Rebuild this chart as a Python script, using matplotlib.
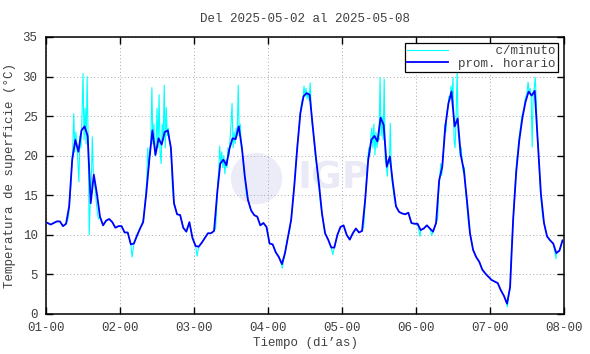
import numpy as np
import matplotlib
matplotlib.use("Agg")
import matplotlib.pyplot as plt

plt.rcParams['font.family'] = ['Liberation Mono', 'DejaVu Sans Mono']

dias = ["01-00", "02-00", "03-00", "04-00", "05-00", "06-00", "07-00", "08-00"]

# promedio horario (un valor por hora, dibujado a la media hora)
prom_dia1 = [11.5, 11.3, 11.5, 11.7, 11.7, 11.1, 11.4, 13.6, 19.5, 22.0, 20.5, 23.2,
             23.7, 22.5, 14.0, 17.6, 15.2, 12.3, 11.2, 11.8, 12.0, 11.6, 10.9, 11.1]
prom_dia2 = [11.1, 10.3, 10.3, 8.8, 8.9, 9.9, 10.8, 11.6, 15.2, 19.5, 23.2, 20.1,
             22.2, 21.4, 23.0, 23.2, 21.0, 14.0, 12.6, 12.5, 10.9, 10.4, 11.6, 9.6]
prom_dia3 = [8.6, 8.5, 9.0, 9.6, 10.2, 10.2, 10.5, 15.2, 19.0, 19.5, 18.8, 20.9,
             22.2, 22.1, 23.7, 21.1, 17.3, 14.4, 13.1, 12.5, 12.3, 11.2, 11.5, 11.0]
prom_dia4 = [8.9, 8.8, 7.8, 7.2, 6.3, 7.7, 9.8, 11.9, 16.1, 21.1, 25.4, 27.5,
             27.9, 27.7, 23.7, 19.9, 16.5, 12.7, 10.2, 9.4, 8.4, 8.4, 10.0, 11.0]
prom_dia5 = [11.2, 10.0, 9.4, 10.2, 10.8, 10.3, 10.5, 14.4, 19.5, 22.0, 22.5, 21.8,
             24.8, 23.9, 18.6, 19.9, 16.5, 13.6, 12.9, 12.7, 12.6, 12.8, 11.5, 11.4]
prom_dia6 = [11.4, 10.6, 10.8, 11.2, 10.8, 10.4, 11.5, 16.9, 18.6, 23.7, 26.6, 28.1,
             23.7, 24.7, 20.1, 18.2, 14.4, 10.2, 8.1, 7.2, 6.6, 5.6, 5.1, 4.7]
prom_dia7 = [4.3, 4.1, 3.9, 3.0, 2.3, 1.3, 3.4, 12.0, 18.0, 22.0, 24.8, 26.8,
             28.1, 27.6, 28.2, 21.6, 15.2, 11.5, 9.8, 9.3, 8.9, 7.7, 8.0, 9.3]
prom_horario = prom_dia1 + prom_dia2 + prom_dia3 + prom_dia4 + prom_dia5 + prom_dia6 + prom_dia7

# lecturas c/minuto durante el dia (cada 20 min, de 7 a 17 h)
min_dia1 = [11.8, 12.5, 14.0, 16.0, 18.5, 21.0, 25.3, 20.5, 23.0, 21.5, 19.0, 16.7,
            22.5, 21.0, 25.0, 30.4, 22.0, 26.0, 21.5, 30.0, 22.0, 10.0, 14.0, 16.0,
            22.4, 18.0, 16.5, 15.5, 14.0, 12.8, 12.0]
min_dia2 = [11.3, 11.6, 12.0, 13.5, 15.0, 17.0, 21.0, 18.5, 20.5, 22.0, 28.6, 21.5,
            24.0, 20.0, 21.0, 26.0, 21.0, 27.7, 20.5, 19.0, 24.0, 22.0, 28.9, 21.0,
            26.1, 22.5, 23.5, 22.0, 21.5, 19.5, 16.0]
min_dia3 = [10.8, 13.5, 16.5, 18.0, 21.2, 19.0, 20.5, 18.5, 20.0, 17.7, 19.5, 18.5,
            21.0, 20.0, 22.0, 24.0, 26.6, 21.0, 23.0, 21.5, 23.5, 22.5, 28.9, 22.5,
            24.0, 21.0, 20.5, 19.0, 17.5, 16.5, 15.0]
min_dia4 = [10.5, 11.5, 12.5, 14.0, 15.5, 17.0, 19.0, 20.5, 22.0, 23.5, 25.0, 26.0,
            27.0, 27.0, 28.8, 27.5, 28.5, 27.2, 28.0, 27.0, 29.2, 26.0, 24.0, 23.0,
            21.5, 20.0, 19.0, 18.0, 16.5, 15.5, 14.0]
min_dia5 = [11.0, 13.0, 15.5, 17.5, 19.5, 21.0, 20.0, 22.5, 23.5, 21.0, 24.0, 20.1,
            23.0, 21.0, 22.5, 22.0, 29.9, 22.5, 25.0, 22.0, 29.7, 19.5, 19.0, 17.4,
            19.5, 19.0, 24.1, 17.5, 16.5, 15.5, 14.5]
min_dia6 = [12.0, 15.5, 17.0, 19.0, 17.5, 19.5, 21.5, 24.0, 23.0, 25.5, 26.0, 27.5,
            27.0, 28.8, 27.5, 29.9, 22.0, 21.0, 25.0, 30.9, 23.0, 21.5, 20.0, 21.0,
            19.0, 17.9, 18.5, 16.0, 14.5, 13.0, 11.5]
min_dia7 = [8.5, 10.5, 13.0, 15.5, 17.5, 19.5, 20.5, 22.0, 23.0, 24.0, 25.0, 25.5,
            26.0, 27.0, 27.5, 28.0, 29.3, 28.0, 28.5, 27.5, 21.1, 28.0, 28.5, 29.9,
            27.0, 22.5, 21.0, 18.0, 15.5, 14.0, 12.5]
minuto_dias = [min_dia1, min_dia2, min_dia3, min_dia4, min_dia5, min_dia6, min_dia7]

# picos nocturnos c/minuto: (dia, hora, valor)
min_extra = [(2, 3.9, 7.2), (3, 1.0, 7.3), (4, 4.6, 5.8), (4, 21.0, 7.5),
             (6, 1.3, 9.8), (6, 5.1, 9.9), (7, 5.6, 0.9), (7, 21.4, 7.0)]

# serie por minuto: noche sigue al promedio, dia con las lecturas
t_min, v_min = [], []
for d, lect in enumerate(minuto_dias):
    for h in range(24):
        if h + 0.5 < 7 or h + 0.5 > 17:
            t_min.append(d + (h + 0.5) / 24)
            v_min.append(prom_horario[d * 24 + h])
    for k, v in enumerate(lect):
        t_min.append(d + (7 + k / 3) / 24)
        v_min.append(v)
for d, h, v in min_extra:
    t_min.append(d - 1 + h / 24)
    v_min.append(v)
orden = np.argsort(t_min)
t_min = np.array(t_min)[orden]
v_min = np.array(v_min)[orden]

t_hor = (np.arange(len(prom_horario)) + 0.5) / 24

fig = plt.figure(figsize=(5.9, 3.54), dpi=100)
ax = fig.add_axes([0.078, 0.113, 0.878, 0.7825])

gris = '#404040'

# marca de agua IGP
ax.plot([0.405], [0.49], 'o', markersize=37, color='#ececf9', mec='none',
        transform=ax.transAxes, zorder=0)
ax.text(0.555, 0.49, "IGP", transform=ax.transAxes, ha='center', va='center',
        fontsize=27, fontweight='bold', color='#eaeaf7', family='DejaVu Sans', zorder=0)

ax.plot(t_min, v_min, color='#00ffff', lw=0.8, label='     c/minuto', zorder=2)
ax.plot(t_hor, prom_horario, color='#0000ff', lw=1.3, label='prom. horario', zorder=3)

ax.set_xlim(0, 7)
ax.set_ylim(0, 35)
ax.set_xticks(range(8))
ax.set_xticklabels(dias)
ax.set_yticks(range(0, 36, 5))
ax.grid(True, color='#a8a8a8', linestyle=(0, (1, 2.5)), linewidth=0.7)
ax.set_axisbelow(True)
ax.tick_params(direction='in', top=True, right=True, length=5, width=1,
               labelsize=9, labelcolor=gris, pad=6)
for s in ax.spines.values():
    s.set_linewidth(1.1)

ax.set_title("Del 2025-05-02 al 2025-05-08", fontsize=9, color=gris, pad=11)
ax.set_xlabel("Tiempo (di’as)", fontsize=9, color=gris, labelpad=2)
ax.set_ylabel("Temperatura de superficie (°C)", fontsize=9, color=gris, labelpad=5)

leg = ax.legend(loc='upper right', fontsize=9, frameon=True, fancybox=False,
                framealpha=1, edgecolor='black', handlelength=3.3,
                borderpad=0.15, labelspacing=0.05, handletextpad=0.8,
                borderaxespad=0.5)
leg.get_frame().set_linewidth(0.9)
for t in leg.get_texts():
    t.set_color(gris)

fig.savefig("out.png", dpi=100)
